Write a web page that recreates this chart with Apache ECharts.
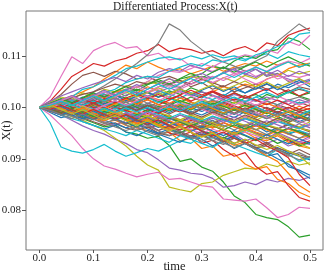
<!DOCTYPE html>
<html>
<head>
<meta charset="utf-8">
<script src="https://cdn.jsdelivr.net/npm/echarts@6/dist/echarts.min.js"></script>
<style>
html,body{margin:0;padding:0;background:#fff;}
#main{width:325px;height:272px;}
</style>
</head>
<body>
<div id="main"></div>
<script>
// time grid of the simulated paths
var times = [0,0.02,0.04,0.06,0.08,0.1,0.12,0.14,0.16,0.18,0.2,0.22,0.24,0.26,0.28,0.3,0.32,0.34,0.36,0.38,0.4,0.42,0.44,0.46,0.48,0.5];

// X(t) paths
var p00 = [0.1,0.0994,0.1002,0.099,0.0985,0.0992,0.098,0.0988,0.0975,0.0982,0.097,0.0978,0.0985,0.0972,0.098,0.0968,0.0975,0.0962,0.097,0.0958,0.0965,0.0952,0.096,0.0948,0.0955,0.0945];
var p01 = [0.1,0.1008,0.1015,0.1022,0.103,0.104,0.1055,0.1068,0.1082,0.1075,0.1088,0.1078,0.107,0.1075,0.1065,0.1072,0.108,0.107,0.1078,0.1085,0.108,0.109,0.1082,0.1088,0.1078,0.1085];
var p02 = [0.1,0.0994,0.0985,0.099,0.0978,0.097,0.0962,0.0966,0.0952,0.0948,0.094,0.0944,0.0926,0.0895,0.09,0.0884,0.0876,0.0855,0.0828,0.0815,0.0792,0.0786,0.0782,0.0768,0.0748,0.0752];
var p03 = [0.1,0.1012,0.1035,0.106,0.1072,0.1085,0.108,0.109,0.1095,0.1105,0.111,0.1122,0.1108,0.1115,0.1112,0.1105,0.111,0.11,0.1112,0.1118,0.1108,0.1125,0.112,0.114,0.1148,0.1154];
var p04 = [0.1,0.0992,0.0985,0.0975,0.0964,0.0955,0.0948,0.0938,0.093,0.0918,0.0912,0.0898,0.0882,0.0878,0.0872,0.087,0.0862,0.0845,0.0848,0.0855,0.085,0.086,0.0855,0.0862,0.0858,0.0865];
var p05 = [0.1,0.101,0.1025,0.1045,0.1062,0.1068,0.106,0.107,0.1065,0.1055,0.106,0.105,0.1045,0.1052,0.104,0.1048,0.1035,0.1042,0.103,0.1038,0.1045,0.1035,0.104,0.1028,0.1035,0.103];
var p06 = [0.1,0.102,0.106,0.1098,0.1085,0.111,0.112,0.1126,0.1115,0.1118,0.11,0.1105,0.1092,0.1095,0.108,0.1075,0.107,0.1078,0.1065,0.1072,0.106,0.1068,0.1055,0.1062,0.1058,0.1064];
var p07 = [0.1,0.1005,0.1012,0.1008,0.1018,0.103,0.1042,0.1055,0.107,0.1085,0.1102,0.1125,0.1162,0.115,0.1128,0.1112,0.1098,0.1088,0.108,0.107,0.1074,0.106,0.1066,0.105,0.1055,0.1045];
var p08 = [0.1,0.0996,0.099,0.0982,0.0975,0.0965,0.0955,0.094,0.0925,0.0905,0.0888,0.0878,0.0845,0.084,0.0836,0.0852,0.0855,0.0868,0.0875,0.0882,0.088,0.089,0.0885,0.0895,0.0888,0.0892];
var p09 = [0.1,0.0995,0.101,0.102,0.1035,0.104,0.105,0.1062,0.1075,0.108,0.1088,0.1095,0.1098,0.1092,0.11,0.1094,0.1102,0.1096,0.11,0.1093,0.1098,0.1104,0.1095,0.1108,0.1102,0.1098];
var p10 = [0.1,0.1008,0.1015,0.101,0.102,0.1012,0.1025,0.1018,0.101,0.1022,0.1015,0.1028,0.102,0.1032,0.1025,0.1018,0.103,0.1022,0.1035,0.1028,0.104,0.1032,0.1045,0.1038,0.1048,0.1052];
var p11 = [0.1,0.1005,0.0995,0.099,0.0985,0.0978,0.097,0.0975,0.0965,0.096,0.0955,0.0948,0.0952,0.0935,0.094,0.092,0.0925,0.0905,0.091,0.089,0.088,0.0885,0.086,0.0852,0.0835,0.0826];
var p12 = [0.1,0.0998,0.1008,0.1015,0.1012,0.1025,0.102,0.103,0.1028,0.104,0.1045,0.105,0.1042,0.1055,0.106,0.1065,0.108,0.1075,0.109,0.11,0.1095,0.1108,0.1112,0.1135,0.1128,0.1112];
var p13 = [0.1,0.1002,0.0998,0.099,0.0995,0.0988,0.098,0.0985,0.0975,0.097,0.096,0.0966,0.095,0.0945,0.0952,0.093,0.0936,0.0918,0.0905,0.0912,0.0885,0.087,0.0875,0.0848,0.0825,0.0818];
var p14 = [0.1,0.0992,0.0998,0.0985,0.0978,0.0985,0.0972,0.0965,0.0975,0.096,0.0968,0.0955,0.0962,0.095,0.0958,0.0945,0.0952,0.094,0.0948,0.0935,0.0942,0.093,0.0938,0.0925,0.0932,0.0928];
var p15 = [0.1,0.1005,0.0998,0.101,0.1002,0.0995,0.1008,0.1,0.0992,0.1005,0.0998,0.099,0.1002,0.0995,0.0985,0.0998,0.099,0.1002,0.0995,0.1008,0.1,0.0992,0.1005,0.0998,0.101,0.1002];
var p16 = [0.1,0.0985,0.0965,0.0945,0.092,0.09,0.0886,0.088,0.0872,0.0865,0.087,0.0874,0.086,0.0862,0.0855,0.0848,0.0845,0.0822,0.082,0.0818,0.0822,0.0805,0.0786,0.0792,0.0806,0.0804];
var p17 = [0.1,0.1008,0.1002,0.1015,0.101,0.102,0.1025,0.1018,0.103,0.1035,0.1028,0.104,0.1045,0.1038,0.105,0.106,0.1055,0.1068,0.1075,0.108,0.109,0.11,0.1128,0.1145,0.1162,0.1148];
var p18 = [0.1,0.101,0.102,0.1015,0.1028,0.1022,0.1035,0.103,0.1042,0.1038,0.105,0.1045,0.1055,0.1048,0.106,0.1055,0.1045,0.1058,0.105,0.1062,0.1055,0.1068,0.106,0.1072,0.1065,0.107];
var p19 = [0.1,0.097,0.0923,0.0915,0.0911,0.0918,0.0928,0.0915,0.0905,0.0912,0.092,0.0915,0.0925,0.0935,0.093,0.0945,0.094,0.095,0.0945,0.0955,0.095,0.0945,0.0958,0.095,0.0955,0.0948];
var p20 = [0.1,0.099,0.098,0.0985,0.0972,0.0965,0.0958,0.0965,0.0952,0.0945,0.0955,0.0948,0.094,0.0932,0.0945,0.0938,0.0925,0.0935,0.092,0.093,0.0918,0.091,0.0922,0.0912,0.0905,0.0898];
var p21 = [0.1,0.0996,0.099,0.0998,0.0985,0.0992,0.098,0.0988,0.0975,0.0968,0.0978,0.0965,0.0972,0.096,0.0955,0.0965,0.095,0.0958,0.0945,0.0952,0.094,0.0935,0.0945,0.0932,0.0925,0.092];
var p22 = [0.1,0.1004,0.1012,0.1005,0.1018,0.1025,0.1018,0.103,0.1022,0.1035,0.1028,0.102,0.1032,0.1025,0.1038,0.103,0.1022,0.1015,0.1028,0.102,0.1012,0.1025,0.1018,0.103,0.1022,0.1015];
var p23 = [0.1,0.1006,0.1,0.1012,0.1005,0.0998,0.1008,0.1,0.1015,0.1008,0.102,0.1012,0.1005,0.1018,0.101,0.1002,0.0996,0.1008,0.1,0.0992,0.0985,0.0995,0.0988,0.098,0.099,0.0985];
var p24 = [0.1,0.1012,0.1022,0.103,0.1038,0.1045,0.1052,0.1058,0.105,0.1062,0.1055,0.1068,0.1075,0.107,0.1082,0.1075,0.1068,0.1078,0.1072,0.1065,0.1058,0.107,0.1062,0.1055,0.1048,0.1055];
var p25 = [0.1,0.0995,0.0985,0.0992,0.098,0.0972,0.0965,0.097,0.096,0.0955,0.0962,0.095,0.0945,0.0952,0.094,0.0948,0.0935,0.0942,0.093,0.0938,0.0925,0.0932,0.092,0.0915,0.0908,0.0902];
var p26 = [0.1,0.1005,0.101,0.1002,0.1012,0.102,0.1015,0.1028,0.1035,0.104,0.105,0.1062,0.107,0.1068,0.1075,0.1085,0.1078,0.109,0.1095,0.1102,0.1098,0.1112,0.1105,0.1128,0.112,0.114];
var p27 = [0.1,0.1002,0.0995,0.0988,0.0995,0.0982,0.099,0.0978,0.0985,0.0972,0.098,0.0968,0.0975,0.0985,0.0978,0.097,0.0982,0.0975,0.0968,0.098,0.0972,0.0965,0.0975,0.0968,0.096,0.0965];
var p28 = [0.1,0.0995,0.1002,0.0996,0.099,0.1,0.0992,0.0986,0.0995,0.0988,0.098,0.099,0.0982,0.0975,0.0985,0.0978,0.097,0.098,0.0972,0.0965,0.0975,0.0968,0.0978,0.097,0.0962,0.0972];
var p29 = [0.1,0.1003,0.0996,0.1005,0.101,0.1018,0.1028,0.1035,0.1048,0.1055,0.106,0.1058,0.107,0.1078,0.1085,0.108,0.1092,0.1088,0.1095,0.109,0.1102,0.1108,0.1118,0.1125,0.1142,0.1145];
var p30 = [0.1,0.1002,0.1008,0.1,0.0995,0.1005,0.0998,0.101,0.1002,0.0995,0.1005,0.0998,0.099,0.1,0.0992,0.0985,0.0995,0.0988,0.098,0.0992,0.0985,0.0978,0.0988,0.098,0.0972,0.0982];
var p31 = [0.1,0.1006,0.1012,0.102,0.1015,0.1025,0.1018,0.103,0.1035,0.1028,0.104,0.1032,0.1025,0.1035,0.1028,0.102,0.103,0.104,0.1035,0.1045,0.104,0.1055,0.1062,0.1075,0.1082,0.1086];
var p32 = [0.1,0.0994,0.0988,0.0995,0.0982,0.0976,0.0985,0.0978,0.097,0.0962,0.0972,0.0965,0.0958,0.095,0.0962,0.0955,0.0948,0.094,0.0952,0.0945,0.0935,0.0942,0.093,0.0938,0.0925,0.0932];
var p33 = [0.1,0.0995,0.1002,0.0994,0.1,0.099,0.0982,0.0992,0.0985,0.0978,0.0988,0.098,0.0972,0.0965,0.0975,0.0968,0.096,0.097,0.0962,0.0955,0.0965,0.0958,0.095,0.096,0.0952,0.0945];
var p34 = [0.1,0.1008,0.1,0.101,0.1018,0.101,0.1002,0.1012,0.1005,0.0998,0.1008,0.1015,0.1008,0.1,0.101,0.1002,0.0995,0.1005,0.0998,0.099,0.1,0.0992,0.1002,0.0995,0.0985,0.0992];
var p35 = [0.1,0.1004,0.0996,0.1002,0.0992,0.0998,0.0988,0.0995,0.0985,0.0992,0.0982,0.099,0.098,0.0972,0.0982,0.0975,0.0968,0.0978,0.097,0.0962,0.0972,0.0965,0.0958,0.0968,0.096,0.0955];
var p36 = [0.1,0.0996,0.1004,0.1012,0.1005,0.1015,0.1008,0.1,0.101,0.1002,0.0995,0.1006,0.0998,0.101,0.1002,0.1015,0.1008,0.102,0.1012,0.1005,0.1015,0.1008,0.1,0.1012,0.1005,0.1015];
var p37 = [0.1,0.1003,0.101,0.1004,0.1012,0.1006,0.1015,0.1008,0.1,0.101,0.1003,0.0995,0.1005,0.0998,0.099,0.1,0.0993,0.0985,0.0995,0.0988,0.0996,0.099,0.0982,0.0992,0.0985,0.0978];
var p38 = [0.1,0.0997,0.0992,0.0998,0.099,0.0984,0.0992,0.0985,0.0995,0.0988,0.098,0.099,0.0984,0.0976,0.0985,0.0978,0.0988,0.098,0.0972,0.0982,0.0975,0.0985,0.0978,0.097,0.098,0.0975];
var p39 = [0.1,0.1005,0.1012,0.102,0.1014,0.1022,0.103,0.1024,0.1035,0.1028,0.102,0.1032,0.1025,0.1018,0.1028,0.1022,0.1015,0.1025,0.1018,0.101,0.102,0.1012,0.1005,0.1015,0.1008,0.1012];
var p40 = [0.1,0.0997,0.099,0.0985,0.0978,0.0985,0.0975,0.0968,0.096,0.0968,0.0958,0.095,0.0958,0.0948,0.094,0.095,0.0942,0.0935,0.0945,0.093,0.0918,0.0905,0.091,0.0885,0.0878,0.0868];
var p41 = [0.1,0.1004,0.0998,0.1005,0.1012,0.1005,0.1015,0.1008,0.1018,0.1012,0.1022,0.1015,0.1008,0.1018,0.101,0.1002,0.1012,0.1005,0.0995,0.1005,0.0998,0.1008,0.1,0.0992,0.1002,0.0995];
var p42 = [0.1,0.0998,0.1006,0.1,0.0994,0.1002,0.0995,0.1005,0.0998,0.1008,0.1,0.101,0.1018,0.101,0.102,0.1012,0.1005,0.1015,0.1008,0.1018,0.1025,0.1015,0.1022,0.103,0.1022,0.1028];
var p43 = [0.1,0.1003,0.0997,0.0992,0.0999,0.0988,0.0994,0.0985,0.0978,0.0988,0.098,0.0972,0.0982,0.0975,0.0968,0.0958,0.0965,0.0955,0.0948,0.0958,0.095,0.094,0.0948,0.0935,0.0928,0.0935];
var p44 = [0.1,0.0995,0.1,0.0992,0.0986,0.0994,0.0988,0.098,0.099,0.0982,0.0975,0.0985,0.0978,0.097,0.098,0.0972,0.0965,0.0975,0.0968,0.0978,0.097,0.0962,0.0972,0.0965,0.0958,0.0968];
var p45 = [0.1,0.1005,0.101,0.1018,0.1025,0.103,0.1038,0.1045,0.104,0.105,0.1045,0.1055,0.106,0.1052,0.1045,0.1055,0.1048,0.104,0.105,0.1042,0.1035,0.1045,0.1038,0.103,0.104,0.1035];
var p46 = [0.1,0.1004,0.101,0.1003,0.0995,0.1002,0.101,0.1018,0.101,0.102,0.1028,0.1035,0.1042,0.1035,0.1045,0.1052,0.106,0.1052,0.1062,0.107,0.1078,0.107,0.1082,0.109,0.1085,0.1095];
var p47 = [0.1,0.0996,0.099,0.0983,0.0975,0.0982,0.097,0.0962,0.0955,0.0962,0.0952,0.0945,0.0955,0.0948,0.0938,0.0945,0.0935,0.0928,0.094,0.0932,0.092,0.0925,0.0915,0.0905,0.0912,0.0902];
var p48 = [0.1,0.1002,0.1008,0.1015,0.101,0.102,0.1012,0.1005,0.1015,0.1025,0.1018,0.1028,0.102,0.1012,0.1005,0.1015,0.1008,0.1,0.101,0.1002,0.0995,0.0988,0.0998,0.099,0.0982,0.099];
var p49 = [0.1,0.0993,0.0985,0.0978,0.0972,0.0965,0.0958,0.0952,0.0945,0.0955,0.0948,0.094,0.0932,0.0945,0.0938,0.093,0.0922,0.0935,0.0928,0.092,0.0912,0.0905,0.0918,0.091,0.0895,0.0902];
var p50 = [0.1,0.1006,0.1001,0.0996,0.1004,0.0998,0.1008,0.1002,0.0994,0.1003,0.0997,0.099,0.0998,0.1006,0.0999,0.0992,0.1,0.0994,0.0986,0.0996,0.099,0.0982,0.0992,0.0986,0.0978,0.0988];
var p51 = [0.1,0.0992,0.0986,0.0994,0.0988,0.098,0.0974,0.0982,0.0976,0.0968,0.0975,0.0966,0.096,0.097,0.0962,0.0955,0.0964,0.0958,0.095,0.096,0.0952,0.0945,0.0955,0.0948,0.094,0.0945];
var p52 = [0.1,0.1005,0.1012,0.1006,0.1014,0.102,0.1014,0.1024,0.1018,0.101,0.1019,0.1012,0.1004,0.1013,0.1006,0.0998,0.1008,0.1002,0.0994,0.1004,0.0996,0.0988,0.0998,0.099,0.0996,0.099];
var p53 = [0.1,0.0996,0.099,0.0998,0.1006,0.1,0.0992,0.1,0.0994,0.0986,0.0995,0.0988,0.0998,0.0991,0.1,0.1008,0.1,0.101,0.1003,0.0995,0.1005,0.0998,0.099,0.1,0.0992,0.0998];
var p54 = [0.1,0.1003,0.1009,0.1015,0.1008,0.1016,0.1022,0.1015,0.1024,0.103,0.1022,0.103,0.1038,0.103,0.1022,0.103,0.1024,0.1016,0.1025,0.1018,0.1012,0.102,0.1013,0.1006,0.1015,0.1008];
var p55 = [0.1,0.0997,0.0993,0.0986,0.0992,0.0985,0.0978,0.0986,0.098,0.0972,0.098,0.0973,0.0966,0.0975,0.0968,0.096,0.0968,0.0962,0.097,0.0963,0.0956,0.0965,0.0958,0.0966,0.096,0.0952];
var p56 = [0.1,0.1004,0.0998,0.0992,0.0985,0.0992,0.0984,0.0977,0.097,0.0978,0.097,0.0962,0.0955,0.0964,0.0957,0.095,0.0958,0.095,0.0943,0.0952,0.0945,0.0938,0.0948,0.094,0.0932,0.094];
var p57 = [0.1,0.0998,0.1004,0.101,0.1003,0.1011,0.1005,0.0998,0.1006,0.1,0.1008,0.1002,0.0995,0.1004,0.0997,0.1006,0.1014,0.1007,0.1016,0.1009,0.1002,0.1012,0.1005,0.1014,0.102,0.1012];
var p58 = [0.1,0.1002,0.0996,0.099,0.0996,0.0988,0.0995,0.0988,0.098,0.0988,0.0982,0.0974,0.0982,0.0975,0.0968,0.0976,0.097,0.0962,0.097,0.0964,0.0957,0.0966,0.096,0.0952,0.096,0.0954];
var p59 = [0.1,0.0996,0.1002,0.0996,0.1004,0.0997,0.099,0.0998,0.0991,0.0984,0.0992,0.0986,0.0979,0.0988,0.0981,0.0974,0.0983,0.0976,0.0969,0.0978,0.0971,0.0964,0.0973,0.0966,0.0959,0.0968];
var p60 = [0.1,0.1007,0.0998,0.1008,0.1016,0.1006,0.1014,0.1024,0.1013,0.1022,0.103,0.1019,0.1028,0.1036,0.1025,0.1033,0.1042,0.1031,0.104,0.1028,0.1036,0.1046,0.1034,0.1043,0.1052,0.104];
var p61 = [0.1,0.0994,0.1003,0.0993,0.0985,0.0995,0.0986,0.0978,0.0989,0.098,0.0972,0.0983,0.0974,0.0966,0.0977,0.0968,0.096,0.0971,0.0962,0.0954,0.0965,0.0956,0.0948,0.0958,0.095,0.0941];
var p62 = [0.1,0.1006,0.0997,0.1005,0.0996,0.1004,0.1012,0.1002,0.101,0.1,0.0992,0.1002,0.0993,0.1003,0.0995,0.1006,0.0997,0.0988,0.0998,0.0989,0.098,0.0991,0.0982,0.0974,0.0985,0.0976];
var p63 = [0.1,0.0993,0.1001,0.0992,0.1,0.1009,0.0999,0.1008,0.1017,0.1006,0.1015,0.1005,0.1014,0.1023,0.1012,0.1021,0.103,0.1019,0.1028,0.1018,0.1027,0.1036,0.1025,0.1034,0.1022,0.1031];
var p64 = [0.1,0.1006,0.0996,0.0988,0.0997,0.0987,0.0979,0.0989,0.098,0.0971,0.0981,0.0972,0.0963,0.0973,0.0964,0.0955,0.0966,0.0957,0.0948,0.0958,0.0949,0.094,0.0951,0.0942,0.0933,0.0944];
var p65 = [0.1,0.0995,0.1004,0.0996,0.1005,0.1014,0.1004,0.1013,0.1003,0.0994,0.1004,0.0995,0.1005,0.0996,0.0987,0.0997,0.0988,0.0998,0.0989,0.0999,0.099,0.1,0.0991,0.0982,0.0993,0.0984];
var p66 = [0.1,0.1008,0.1,0.101,0.1001,0.0992,0.1002,0.0993,0.0984,0.0994,0.0985,0.0995,0.1006,0.0996,0.1006,0.0997,0.0988,0.0979,0.0989,0.098,0.099,0.0981,0.0972,0.0983,0.0974,0.0965];
var p67 = [0.1,0.0994,0.0985,0.0994,0.0986,0.0977,0.0987,0.0978,0.0988,0.0979,0.097,0.098,0.0971,0.0962,0.0972,0.0963,0.0974,0.0965,0.0956,0.0966,0.0957,0.0947,0.0958,0.0949,0.094,0.095];
var p68 = [0.1,0.1006,0.1014,0.1005,0.1013,0.1022,0.1012,0.1021,0.103,0.102,0.1029,0.1038,0.1027,0.1036,0.1026,0.1035,0.1044,0.1033,0.1042,0.1051,0.104,0.1049,0.1038,0.1047,0.1056,0.1045];
var p69 = [0.1,0.0996,0.1004,0.1013,0.1004,0.1012,0.1003,0.1011,0.1002,0.101,0.1019,0.1009,0.1018,0.1008,0.0998,0.1008,0.0999,0.099,0.1,0.0991,0.1001,0.0992,0.0983,0.0993,0.0984,0.0994];
var p70 = [0.1,0.0993,0.0985,0.0993,0.0984,0.0976,0.0986,0.0977,0.0969,0.0979,0.097,0.0961,0.0971,0.0962,0.0953,0.0963,0.0954,0.0945,0.0955,0.0946,0.0937,0.0947,0.0938,0.0929,0.0939,0.093];
var p71 = [0.1,0.1005,0.1013,0.1004,0.0996,0.1006,0.0997,0.1007,0.1016,0.1006,0.1015,0.1005,0.0996,0.1006,0.0997,0.1007,0.0998,0.0989,0.0999,0.099,0.0981,0.0991,0.0982,0.0992,0.0983,0.0974];
var p72 = [0.1,0.0996,0.0989,0.0998,0.099,0.0982,0.0992,0.0984,0.0976,0.0986,0.0978,0.0969,0.0979,0.0971,0.0963,0.0973,0.0965,0.0956,0.0966,0.0958,0.0968,0.0959,0.095,0.096,0.0952,0.0943];
var p73 = [0.1,0.1005,0.0998,0.1007,0.1016,0.1008,0.1017,0.1009,0.1018,0.1026,0.1017,0.1025,0.1016,0.1024,0.1033,0.1024,0.1032,0.1023,0.1014,0.1023,0.1014,0.1005,0.1014,0.1005,0.0996,0.1005];
var p74 = [0.1,0.0996,0.1004,0.0995,0.0986,0.0995,0.0987,0.0979,0.0989,0.0981,0.0991,0.0983,0.0975,0.0985,0.0977,0.0969,0.0979,0.0971,0.0981,0.0973,0.0964,0.0974,0.0966,0.0958,0.0968,0.096];
var p75 = [0.1,0.1004,0.0997,0.1006,0.0998,0.1007,0.0999,0.0991,0.1001,0.0993,0.1003,0.0995,0.0987,0.0997,0.0989,0.0981,0.0991,0.0983,0.0975,0.0985,0.0977,0.0969,0.0979,0.0971,0.0981,0.0973];
var p76 = [0.1,0.0995,0.1002,0.0994,0.1003,0.0995,0.1004,0.1013,0.1004,0.1013,0.1022,0.1013,0.1022,0.1031,0.1022,0.1013,0.1022,0.1013,0.1004,0.1013,0.1004,0.1013,0.1022,0.1013,0.1004,0.1012];
var p77 = [0.1,0.1004,0.1011,0.1003,0.1011,0.1019,0.101,0.1018,0.1009,0.1017,0.1008,0.0999,0.1007,0.0998,0.1006,0.0997,0.1005,0.0996,0.0987,0.0996,0.0987,0.0978,0.0987,0.0978,0.0969,0.0978];
var p78 = [0.1,0.0996,0.1003,0.0994,0.1002,0.0993,0.0984,0.0993,0.0984,0.0975,0.0984,0.0975,0.0966,0.0975,0.0966,0.0957,0.0966,0.0957,0.0948,0.0957,0.0948,0.0939,0.0948,0.0939,0.093,0.0921];
var p79 = [0.1,0.1005,0.0997,0.1005,0.0997,0.0989,0.0998,0.099,0.0999,0.0991,0.1,0.0992,0.1001,0.0993,0.1002,0.1011,0.1002,0.1011,0.102,0.1011,0.102,0.1029,0.102,0.1029,0.1038,0.1029];
var p80 = [0.1,0.0994,0.1002,0.0992,0.0984,0.0993,0.0983,0.0975,0.0984,0.0974,0.0966,0.0975,0.0964,0.0956,0.0965,0.0954,0.0946,0.0936,0.0944,0.0932,0.0922,0.0912,0.09,0.089,0.0875,0.0862];
var p81 = [0.1,0.1006,0.0998,0.099,0.0999,0.0989,0.098,0.0989,0.0978,0.0969,0.0978,0.0966,0.0957,0.0965,0.0952,0.0943,0.095,0.0936,0.0926,0.0933,0.0918,0.0906,0.0895,0.0872,0.0848,0.0835];
var p82 = [0.1,0.1008,0.1017,0.1009,0.1019,0.1028,0.102,0.1031,0.104,0.1032,0.1044,0.1054,0.1045,0.1056,0.1066,0.1057,0.1068,0.1078,0.1068,0.1079,0.1088,0.1078,0.1089,0.1098,0.1088,0.108];
var p83 = [0.1,0.0996,0.1004,0.0995,0.0987,0.0996,0.0986,0.0977,0.0986,0.0976,0.0967,0.0976,0.0965,0.0956,0.0965,0.0954,0.0944,0.0952,0.094,0.093,0.0938,0.0925,0.0915,0.0902,0.087,0.0848];
var p84 = [0.1,0.1007,0.1014,0.1023,0.1014,0.1024,0.1033,0.1024,0.1034,0.1044,0.1035,0.1046,0.1056,0.1046,0.1057,0.1066,0.1056,0.1066,0.1075,0.1064,0.1074,0.1062,0.1072,0.106,0.107,0.1062];
var p85 = [0.1,0.0995,0.0988,0.0996,0.0987,0.0978,0.0987,0.0977,0.0967,0.0976,0.0965,0.0955,0.0964,0.0953,0.0944,0.0953,0.0942,0.0933,0.0941,0.093,0.0921,0.0929,0.0918,0.0909,0.0918,0.0908];
var p86 = [0.1,0.1005,0.1013,0.1021,0.1012,0.1021,0.103,0.102,0.103,0.104,0.103,0.104,0.105,0.104,0.105,0.1059,0.1048,0.1057,0.1066,0.1055,0.1045,0.1054,0.1063,0.1052,0.1042,0.105];
var p87 = [0.1,0.0994,0.0986,0.0978,0.0987,0.0977,0.0968,0.0977,0.0966,0.0956,0.0965,0.0954,0.0945,0.0954,0.0943,0.0934,0.0942,0.0931,0.0922,0.093,0.0919,0.091,0.0918,0.0907,0.0898,0.0905];
var p88 = [0.1,0.1004,0.0996,0.0987,0.0995,0.0985,0.0976,0.0984,0.0974,0.0965,0.0974,0.0963,0.0954,0.0962,0.0951,0.0942,0.095,0.0939,0.093,0.0938,0.0927,0.0918,0.0926,0.0915,0.0906,0.0888];
var p89 = [0.1,0.1004,0.1012,0.1004,0.1013,0.1022,0.1013,0.1023,0.1033,0.1024,0.1035,0.1045,0.1035,0.1046,0.1056,0.1046,0.1057,0.1067,0.1058,0.1068,0.1078,0.1069,0.1079,0.1088,0.1078,0.1085];

var paths = [p00,p01,p02,p03,p04,p05,p06,p07,p08,p09,
             p10,p11,p12,p13,p14,p15,p16,p17,p18,p19,
             p20,p21,p22,p23,p24,p25,p26,p27,p28,p29,
             p30,p31,p32,p33,p34,p35,p36,p37,p38,p39,
             p40,p41,p42,p43,p44,p45,p46,p47,p48,p49,
             p50,p51,p52,p53,p54,p55,p56,p57,p58,p59,
             p60,p61,p62,p63,p64,p65,p66,p67,p68,p69,
             p70,p71,p72,p73,p74,p75,p76,p77,p78,p79,
             p80,p81,p82,p83,p84,p85,p86,p87,p88,p89];

var xTicks = [0,0.1,0.2,0.3,0.4,0.5];
var yTicks = [0.08,0.09,0.10,0.11];

// matplotlib default cycle
var palette = ['#1f77b4','#ff7f0e','#2ca02c','#d62728','#9467bd','#8c564b','#e377c2','#7f7f7f','#bcbd22','#17becf'];
var serif = '"Liberation Serif", "DejaVu Serif", serif';

var myChart = echarts.init(document.getElementById('main'));

var series = [];
for (var i = 0; i < paths.length; i++) {
	var pts = [];
	for (var j = 0; j < times.length; j++) {
		pts.push([times[j], paths[i][j]]);
	}
	series.push({
		type: 'line',
		data: pts,
		showSymbol: false,
		symbol: 'none',
		silent: true,
		lineStyle: { width: 1.2 }
	});
}

option = {
	animation: false,
	color: palette,
	title: {
		text: 'Differentiated Process:X(t)',
		left: 113,
		top: 1,
		padding: 0,
		textStyle: { fontFamily: serif, fontSize: 11.5, fontWeight: 'normal', color: '#222' }
	},
	grid: {
		left: 26, right: 2, top: 11, bottom: 22,
		outerBoundsMode: 'none',
		containLabel: false,
		show: true,
		borderColor: '#777',
		borderWidth: 1
	},
	xAxis: {
		type: 'value',
		min: -0.0246,
		max: 0.524,
		name: 'time',
		nameLocation: 'middle',
		nameGap: 10,
		nameMoveOverlap: false,
		nameTextStyle: { fontFamily: serif, fontSize: 12.5, color: '#222' },
		axisLine: { show: false, onZero: false },
		axisTick: { show: true, length: 3, customValues: xTicks, lineStyle: { color: '#555' } },
		axisLabel: {
			customValues: xTicks,
			margin: 3,
			fontFamily: serif, fontSize: 11, color: '#222',
			formatter: function (v) { return v.toFixed(1); }
		},
		splitLine: { show: false }
	},
	yAxis: {
		type: 'value',
		min: 0.0723,
		max: 0.1187,
		name: 'X(t)',
		nameLocation: 'middle',
		nameGap: 13,
		nameMoveOverlap: false,
		nameTextStyle: { fontFamily: serif, fontSize: 12, color: '#222' },
		axisLine: { show: false, onZero: false },
		axisTick: { show: true, length: 4, customValues: yTicks, lineStyle: { color: '#555' } },
		axisLabel: {
			customValues: yTicks,
			margin: 5,
			fontFamily: serif, fontSize: 11, color: '#222',
			formatter: function (v) { return v.toFixed(2); }
		},
		splitLine: { show: false }
	},
	series: series
};
myChart.setOption(option);
</script>
</body>
</html>
